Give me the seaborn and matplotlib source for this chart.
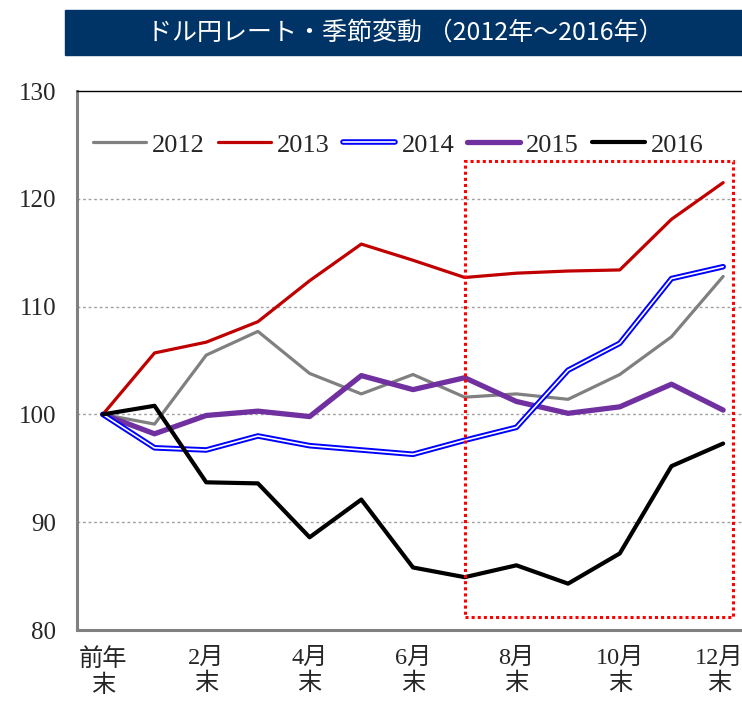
import numpy as np
import pandas as pd
import matplotlib
matplotlib.use("Agg")
import matplotlib.pyplot as plt
import matplotlib.patheffects as pe
import matplotlib.transforms as mtransforms
from matplotlib.patches import Rectangle
import seaborn as sns

# month index: 0 = previous year end, 1..12 = month end
MONTHS = list(range(13))
TICK_POS = [0, 2, 4, 6, 8, 10, 12]
TICK_LABELS = ["前年\n末", "2月\n末", "4月\n末", "6月\n末", "8月\n末", "10月\n末", "12月\n末"]

YEARS = ["2012", "2013", "2014", "2015", "2016"]
Y2012 = [100, 99.1, 105.5, 107.7, 103.8, 101.9, 103.7, 101.6, 101.9, 101.4, 103.7, 107.2, 112.8]
Y2013 = [100, 105.7, 106.7, 108.6, 112.4, 115.8, 114.3, 112.7, 113.1, 113.3, 113.4, 118.1, 121.5]
Y2014 = [100, 96.9, 96.7, 98.0, 97.1, 96.7, 96.3, 97.6, 98.8, 104.1, 106.6, 112.6, 113.7]
Y2015 = [100, 98.2, 99.9, 100.3, 99.8, 103.6, 102.3, 103.4, 101.2, 100.1, 100.7, 102.8, 100.4]
Y2016 = [100, 100.8, 93.7, 93.6, 88.6, 92.1, 85.8, 84.9, 86.0, 84.3, 87.1, 95.2, 97.3]

TITLE = "ドル円レート・季節変動 （2012年～2016年）"
FONTS = ["Liberation Serif", "Noto Sans CJK JP", "DejaVu Sans"]

# highlighted period (Jul - Dec)
BOX_X0, BOX_X1 = 7.0, 12.19
BOX_Y0, BOX_Y1 = 81.2, 123.5


def main():
    sns.set_style("white")
    plt.rcParams["font.family"] = FONTS

    df = pd.DataFrame({"month": MONTHS, "2012": Y2012, "2013": Y2013,
                       "2014": Y2014, "2015": Y2015, "2016": Y2016})

    fig = plt.figure(figsize=(7.42, 7.05), dpi=100)
    ax = fig.add_axes([77 / 742, 75 / 705, 672 / 742, 539 / 705])

    styles = {
        "2012": dict(color="#808080", lw=2.3, zorder=3),
        "2013": dict(color="#C00000", lw=2.3, zorder=3),
        "2014": dict(color="white", lw=1.2, zorder=5,
                     path_effects=[pe.Stroke(linewidth=4.0, foreground="#0000FF"), pe.Normal()]),
        "2015": dict(color="#7030A0", lw=3.8, zorder=4),
        "2016": dict(color="black", lw=3.0, zorder=6),
    }
    for yr in YEARS:
        sns.lineplot(data=df, x="month", y=yr, ax=ax, label=yr, **styles[yr])

    ax.set_xlim(-0.5, 12.5)
    ax.set_ylim(80, 130)
    ax.set_yticks(range(80, 131, 10))
    ax.set_xticks(TICK_POS)
    ax.set_xticklabels(TICK_LABELS, linespacing=1.2)
    ax.tick_params(axis="both", length=0)
    ax.tick_params(axis="y", pad=15, labelsize=18)
    ax.tick_params(axis="x", pad=13, labelsize=17.5)
    ax.set_xlabel("")
    ax.set_ylabel("")

    # last label sits right at the figure edge, nudge it in a bit
    last = ax.get_xticklabels()[-1]
    last.set_transform(last.get_transform() +
                       mtransforms.ScaledTranslation(-4 / 100, 0, fig.dpi_scale_trans))

    for v in [90, 100, 110, 120]:
        ax.axhline(v, color="#A0A0A0", lw=1.0, ls=(0, (2, 2)), zorder=1)

    for side in ["left", "bottom"]:
        ax.spines[side].set_color("#808080")
        ax.spines[side].set_linewidth(2.2)
    ax.spines["top"].set_color("black")
    ax.spines["top"].set_linewidth(1.0)
    ax.spines["right"].set_visible(False)

    ax.add_patch(Rectangle((BOX_X0, BOX_Y0), BOX_X1 - BOX_X0, BOX_Y1 - BOX_Y0,
                           fill=False, edgecolor="#FF0000", lw=2.2,
                           ls=(0, (1, 1)), zorder=7))

    ax.legend(loc="center left", bbox_to_anchor=(0.0, 0.9), ncol=5,
              frameon=False, fontsize=19, handlelength=2.0,
              handletextpad=0.23, columnspacing=0.5, borderaxespad=0.2)

    # title banner
    fig.patches.append(Rectangle((65 / 742, 1 - 55 / 705), 1.0, 45 / 705,
                                 transform=fig.transFigure, color="#003366"))
    fig.text(405 / 742, 1 - 33 / 705, TITLE, color="white", fontsize=18,
             ha="center", va="center", family=["Noto Sans CJK JP", "DejaVu Sans"])

    fig.savefig("out.png", dpi=100)


if __name__ == "__main__":
    main()
